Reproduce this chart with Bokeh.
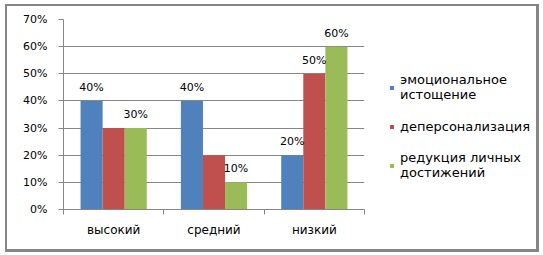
from bokeh.plotting import figure
from bokeh.models import (ColumnDataSource, Range1d, FixedTicker, LabelSet, Legend, LegendItem,
                          CustomJSTickFormatter)
from bokeh.core.properties import value
from bokeh.transform import dodge
from bokeh.layouts import row
from bokeh.embed import file_html
from bokeh.resources import INLINE

# ---- data ----
categories = ["высокий", "средний", "низкий"]
series_names = ["эмоциональное\nистощение", "деперсонализация", "редукция личных\nдостижений"]
emotional = [0.40, 0.40, 0.20]
depers = [0.30, 0.20, 0.50]
reduction = [0.30, 0.10, 0.60]
# which data labels are visible in the original
show_emotional = [True, True, True]
show_depers = [False, False, True]
show_reduction = [True, True, True]
y_ticks = [0.0, 0.1, 0.2, 0.3, 0.4, 0.5, 0.6, 0.7]

colors = ["#4F81BD", "#C0504D", "#9BBB59"]
offsets = [-0.22, 0.0, 0.22]
FONT = "DejaVu Sans"

xs = [i + 0.5 for i in range(len(categories))]


def pct(v):
    return "%d%%" % round(v * 100)


src = ColumnDataSource(dict(
    x=xs,
    emo=emotional, dep=depers, red=reduction,
    emo_t=[pct(v) if s else "" for v, s in zip(emotional, show_emotional)],
    dep_t=[pct(v) if s else "" for v, s in zip(depers, show_depers)],
    red_t=[pct(v) if s else "" for v, s in zip(reduction, show_reduction)],
))

p = figure(width=378, height=243, output_backend="svg", toolbar_location=None,
           x_range=Range1d(0, 3), y_range=Range1d(0, 0.7),
           min_border_left=56, min_border_right=21, min_border_top=13, min_border_bottom=40)
p.outline_line_color = None
p.background_fill_color = "white"
p.border_fill_color = "white"

fields = ["emo", "dep", "red"]
for field, tfield, off, col in zip(fields, ["emo_t", "dep_t", "red_t"], offsets, colors):
    p.vbar(x=dodge("x", off), top=field, width=0.22, source=src,
           fill_color=col, line_color=None)
    lbl = LabelSet(x=dodge("x", off), y=field, text=tfield, source=src,
                   text_align="center", text_baseline="bottom", y_offset=7,
                   text_font=value(FONT), text_font_size=value("11px"), text_color="#000000")
    p.add_layout(lbl)

# y axis
ya = p.yaxis[0]
ya.ticker = FixedTicker(ticks=y_ticks)
ya.formatter = CustomJSTickFormatter(code="return Math.round(tick*100) + '%';")
ya.axis_line_color = "#868686"
ya.major_tick_line_color = "#868686"
ya.major_tick_out = 5
ya.major_tick_in = 0
ya.minor_tick_line_color = None
ya.major_label_standoff = 11
ya.major_label_text_font = FONT
ya.major_label_text_font_size = "11px"
ya.major_label_text_color = "#000000"

# x axis: labels at category centers, ticks between categories
xa = p.xaxis[0]
xa.ticker = FixedTicker(ticks=xs, minor_ticks=[0, 1, 2, 3])
xa.major_label_overrides = {x: c for x, c in zip(xs, categories)}
xa.axis_line_color = "#868686"
xa.major_tick_line_color = None
xa.major_tick_out = 0
xa.major_tick_in = 0
xa.minor_tick_line_color = "#868686"
xa.minor_tick_out = 5
xa.minor_tick_in = 0
xa.major_label_standoff = 8
xa.major_label_text_font = FONT
xa.major_label_text_font_size = "12px"
xa.major_label_text_color = "#000000"

p.xgrid.grid_line_color = None
p.ygrid.grid_line_color = "#868686"
p.ygrid.grid_line_width = 1

# legend panel: a second figure holding only the legend (its proxy glyphs draw nothing)
pl = figure(width=151, height=243, output_backend="svg", toolbar_location=None,
            x_range=Range1d(0, 1), y_range=Range1d(0, 1),
            x_axis_type=None, y_axis_type=None, min_border=0)
pl.outline_line_color = None
pl.grid.visible = False
pl.background_fill_color = "white"
pl.border_fill_color = "white"
proxy = ColumnDataSource(dict(x=[float("nan")], top=[float("nan")]))
leg_renderers = [pl.vbar(x="x", top="top", width=0.1, source=proxy, fill_color=c, line_color=None)
                 for c in colors]

legend = Legend(items=[LegendItem(label=n, renderers=[r]) for n, r in zip(series_names, leg_renderers)],
                location=(4, 29), orientation="vertical",
                glyph_width=5, glyph_height=5, label_standoff=6, spacing=14,
                padding=0, margin=0, border_line_color=None, background_fill_alpha=0,
                label_text_font=FONT, label_text_font_size="13px", label_text_color="#000000",
                label_height=20)
pl.add_layout(legend)

layout = row(p, pl, styles={"margin-left": "5px", "margin-top": "4px",
                            "border-style": "solid", "border-color": "#868686",
                            "border-width": "2px 3px 3px 2px", "background": "white"})

open("out.html", "w").write(file_html(layout, INLINE))
